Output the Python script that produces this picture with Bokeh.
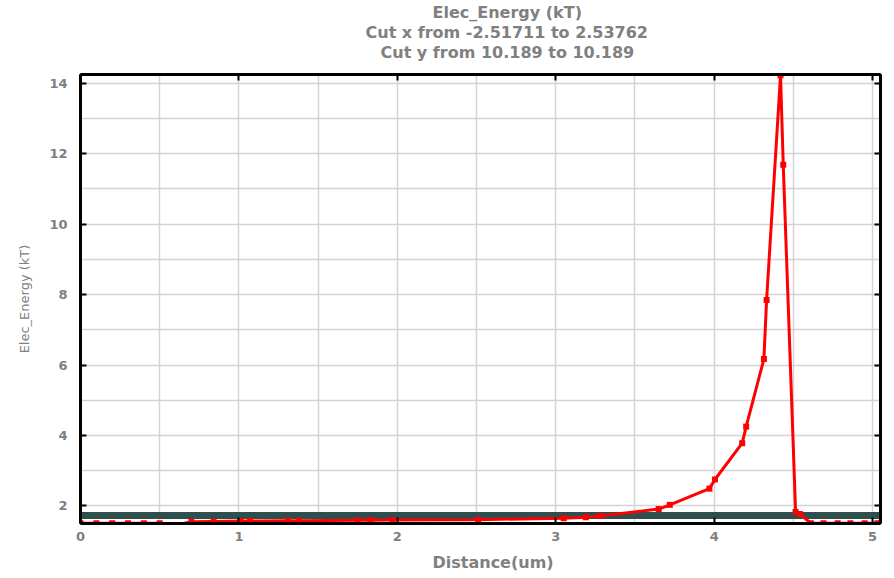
from bokeh.plotting import figure
from bokeh.models import (Range1d, LinearAxis, Title, SingleIntervalTicker,
                          FixedTicker, ColumnDataSource)
from bokeh.embed import file_html
from bokeh.resources import INLINE

# ---- data ----
distance = [0.0, 0.1, 0.2, 0.3, 0.4, 0.5, 0.605, 0.70, 0.84, 1.01, 1.07, 1.31,
            1.38, 1.75, 1.83, 1.97, 2.51, 3.05, 3.19, 3.28, 3.65, 3.72, 3.97,
            4.005, 4.177, 4.202, 4.314, 4.331, 4.419, 4.436, 4.514, 4.541,
            4.61, 4.69, 4.78, 4.86, 4.95, 5.03, 5.05]
energy = [1.51, 1.51, 1.51, 1.51, 1.51, 1.51, 1.46, 1.55, 1.56, 1.57, 1.57, 1.58,
          1.58, 1.59, 1.59, 1.60, 1.61, 1.65, 1.68, 1.71, 1.91, 2.03, 2.49,
          2.75, 3.78, 4.25, 6.17, 7.85, 14.23, 11.69, 1.83, 1.77,
          1.51, 1.51, 1.51, 1.51, 1.51, 1.51, 1.51]

band_left = [0.0]
band_right = [5.05]
band_bottom = [1.63]
band_top = [1.83]

x_ticks = [0, 1, 2, 3, 4, 5]
y_ticks = [2, 4, 6, 8, 10, 12, 14]

title_lines = ["Elec_Energy (kT)",
               "Cut x from -2.51711 to 2.53762",
               "Cut y from 10.189 to 10.189"]
x_label = "Distance(um)"
y_label = "Elec_Energy (kT)"

GRAY = "#808080"
FONT = "DejaVu Sans"

p = figure(width=894, height=578, output_backend="svg", toolbar_location=None,
           title=None, x_range=Range1d(0, 5.05), y_range=Range1d(1.5, 14.25),
           x_axis_location=None, y_axis_location=None,
           min_border_left=80, min_border_right=14, min_border_top=0,
           min_border_bottom=54)
p.background_fill_color = "white"
p.border_fill_color = "white"
p.outline_line_color = "black"
p.outline_line_width = 2


def style_axis(ax, ticks, show_labels):
    ax.ticker = FixedTicker(ticks=ticks)
    ax.axis_line_color = "black"
    ax.axis_line_width = 3
    ax.major_tick_in = 6
    ax.major_tick_out = 0
    ax.major_tick_line_width = 2
    ax.major_tick_line_color = "black"
    ax.minor_tick_line_color = None
    if show_labels:
        ax.major_label_text_font = FONT
        ax.major_label_text_font_style = "bold"
        ax.major_label_text_font_size = "13px"
        ax.major_label_text_color = GRAY
    else:
        ax.major_label_text_font_size = "0px"
        ax.major_label_standoff = 0
        ax.major_label_text_color = None


xaxis = LinearAxis()
style_axis(xaxis, x_ticks, True)
xaxis.major_label_standoff = 8

yaxis = LinearAxis()
style_axis(yaxis, y_ticks, True)
yaxis.major_label_standoff = 13
yaxis.axis_label = y_label
yaxis.axis_label_text_font = FONT
yaxis.axis_label_text_font_style = "normal"
yaxis.axis_label_text_font_size = "13px"
yaxis.axis_label_text_color = GRAY
yaxis.axis_label_standoff = 14

topaxis = LinearAxis()
style_axis(topaxis, x_ticks, False)
# invisible axis label on the top axis only reserves the gap under the titles
topaxis.axis_label = "x"
topaxis.axis_label_text_alpha = 0
topaxis.axis_label_text_font_size = "10px"
topaxis.axis_label_standoff = 0
rightaxis = LinearAxis()
style_axis(rightaxis, y_ticks, False)

xlabel_title = Title(text=x_label, align="left", offset=352,
                     text_font=FONT, text_font_style="bold",
                     text_font_size="16px", text_color=GRAY, standoff=14)

t_offsets = [352, 285, 300]
t_standoffs = [0, -1, -2]
titles = [Title(text=t, align="left", offset=o, text_font=FONT,
                text_font_style="bold", text_font_size="16px",
                text_color=GRAY, standoff=s)
          for t, o, s in zip(title_lines, t_offsets, t_standoffs)]

p.left = [yaxis]
p.right = [rightaxis]
p.below = [xaxis, xlabel_title]
p.above = [topaxis, titles[2], titles[1], titles[0]]

p.xgrid.ticker = SingleIntervalTicker(interval=0.5)
p.ygrid.ticker = SingleIntervalTicker(interval=1)
p.xgrid.grid_line_color = "#d4d4d4"
p.ygrid.grid_line_color = "#d4d4d4"
p.xgrid.grid_line_width = 1.5
p.ygrid.grid_line_width = 1.5

band = ColumnDataSource(dict(left=band_left, right=band_right,
                             bottom=band_bottom, top=band_top))
p.quad(left="left", right="right", bottom="bottom", top="top", source=band,
       fill_color="#2f4f4f", line_color=None)

src = ColumnDataSource(dict(x=distance, y=energy))
p.line("x", "y", source=src, line_color="#ff0000", line_width=3)
p.scatter("x", "y", source=src, marker="square", size=6,
          fill_color="#ff0000", line_color=None)

open("out.html", "w").write(file_html(p, INLINE))
